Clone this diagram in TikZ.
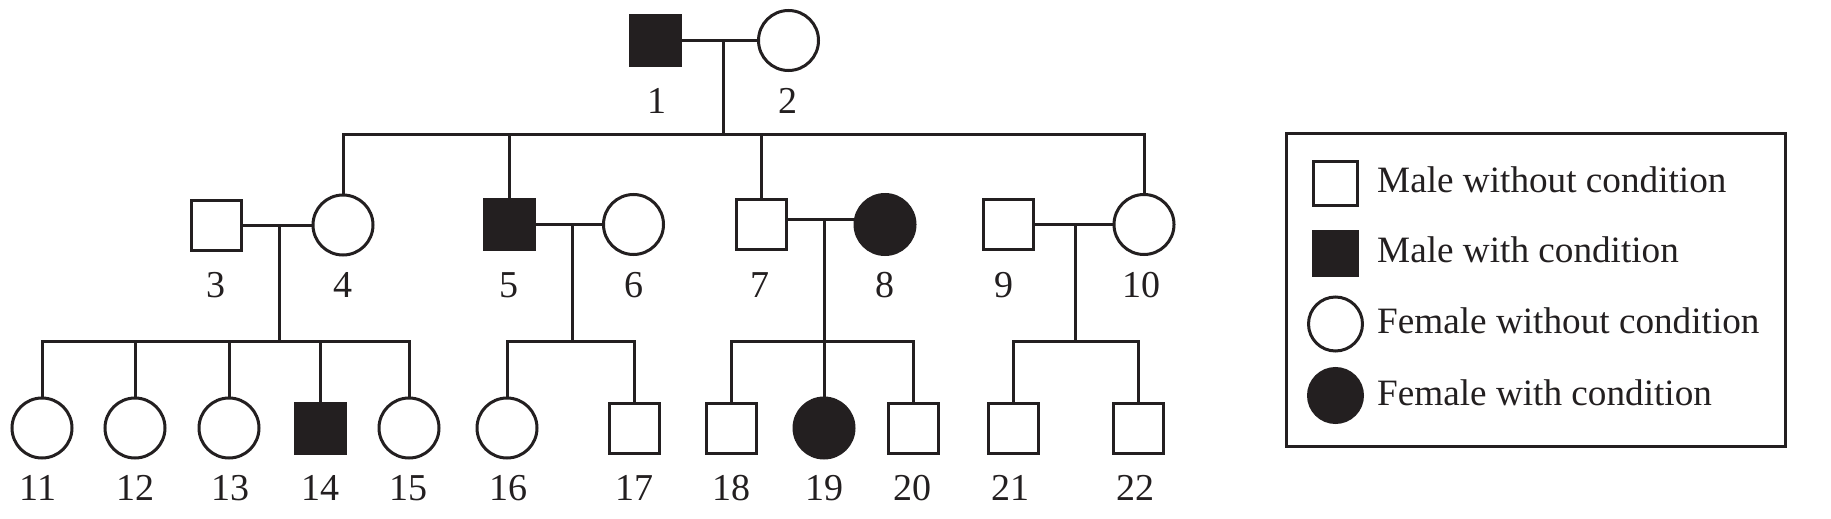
\documentclass[tikz,border=0pt]{standalone}
\usepackage{fontspec}
\setmainfont{Liberation Serif}
\definecolor{ink}{RGB}{35,31,32}
\tikzset{
 conn/.style={draw=ink, line width=3pt},
 male/.style={rectangle, draw=ink, line width=3pt, minimum size=50pt, inner sep=0pt, fill=white},
 female/.style={circle, draw=ink, line width=3pt, minimum size=60pt, inner sep=0pt, fill=white},
 aff/.style={fill=ink},
 num/.style={anchor=base, inner sep=0pt, text=ink, font=\fontsize{38}{40}\selectfont},
 legtext/.style={anchor=base west, inner sep=0pt, text=ink, font=\fontsize{37.2}{40}\selectfont},
 lmale/.style={rectangle, draw=ink, line width=3pt, minimum size=44pt, inner sep=0pt, fill=white},
 lfemale/.style={circle, draw=ink, line width=3pt, minimum size=54pt, inner sep=0pt, fill=white},
}
\begin{document}
\begin{tikzpicture}[x=1pt,y=-1pt]
\useasboundingbox (0,0) rectangle (1831,519);
\fill[white] (0,0) rectangle (1831,519);
% generation I
\node[male,aff] (n1) at (655.5,40.5) {};
\node[female] (n2) at (788.5,40.5) {};
% generation II
\node[male] (n3) at (216,225) {};
\node[female] (n4) at (343,225) {};
\node[male,aff] (n5) at (509.5,224.5) {};
\node[female] (n6) at (633.5,224.5) {};
\node[male] (n7) at (761.5,224.5) {};
\node[female,aff] (n8) at (885,224.5) {};
\node[male] (n9) at (1008.5,224.5) {};
\node[female] (n10) at (1144,224.5) {};
% generation III
\node[female] (n11) at (42,428) {};
\node[female] (n12) at (135,428) {};
\node[female] (n13) at (229,428) {};
\node[male,aff] (n14) at (320,428) {};
\node[female] (n15) at (409,428) {};
\node[female] (n16) at (507,428) {};
\node[male] (n17) at (634,428) {};
\node[male] (n18) at (731,428) {};
\node[female,aff] (n19) at (824,428) {};
\node[male] (n20) at (913,428) {};
\node[male] (n21) at (1013,428) {};
\node[male] (n22) at (1138,428) {};
% labels
\node[num] (l1) at (657,113) {1};
\node[num] (l2) at (788,113) {2};
\node[num] (l3) at (216,297) {3};
\node[num] (l4) at (343,297) {4};
\node[num] (l5) at (509,297) {5};
\node[num] (l6) at (634,297) {6};
\node[num] (l7) at (760,297) {7};
\node[num] (l8) at (885,297) {8};
\node[num] (l9) at (1004,297) {9};
\node[num] (l10) at (1141,297) {10};
\node[num] (l11) at (38,500) {11};
\node[num] (l12) at (135,500) {12};
\node[num] (l13) at (230,500) {13};
\node[num] (l14) at (320,500) {14};
\node[num] (l15) at (408,500) {15};
\node[num] (l16) at (508,500) {16};
\node[num] (l17) at (634,500) {17};
\node[num] (l18) at (731,500) {18};
\node[num] (l19) at (824,500) {19};
\node[num] (l20) at (912,500) {20};
\node[num] (l21) at (1010,500) {21};
\node[num] (l22) at (1135,500) {22};
% junction coordinates
\coordinate (m12) at (723,41);
\coordinate (s12) at (723,134);
\coordinate (m34) at (279,225);
\coordinate (s34) at (279,341);
\coordinate (m56) at (572,225);
\coordinate (s56) at (572,341);
\coordinate (m78) at (824,219);
\coordinate (s78) at (824,341);
\coordinate (m910) at (1075,225);
\coordinate (s910) at (1075,341);
% mating lines
\draw[conn] (n1.east) -- (n2.west);
\draw[conn] (n3.east) -- (n4.west);
\draw[conn] (n5.east) -- (n6.west);
\draw[conn] (n7.east |- m78) -- (n8.west |- m78);
\draw[conn] (n9.east) -- (n10.west);
% descent lines
\draw[conn] (m12) -- (s12);
\draw[conn] (n4.north) |- (s12) -| (n10.north);
\draw[conn] (n5.north) -- (n5.north |- s12);
\draw[conn] (n7.north) -- (n7.north |- s12);
\draw[conn] (m34) -- (s34);
\draw[conn] (n11.north) |- (s34) -| (n15.north);
\draw[conn] (n12.north) -- (n12.north |- s34);
\draw[conn] (n13.north) -- (n13.north |- s34);
\draw[conn] (n14.north) -- (n14.north |- s34);
\draw[conn] (m56) -- (s56);
\draw[conn] (n16.north) |- (s56) -| (n17.north);
\draw[conn] (m78) -- (n19.north);
\draw[conn] (n18.north) |- (s78) -| (n20.north);
\draw[conn] (m910) -- (s910);
\draw[conn] (n21.north) |- (s910) -| (n22.north);
% legend
\node[draw=ink, line width=3pt, rectangle, minimum width=499pt, minimum height=313pt, inner sep=0pt] (legend) at (1536,290) {};
\node[lmale] (k1) at (1335.5,183.5) {};
\node[lmale,aff] (k2) at (1335.5,253) {};
\node[lfemale] (k3) at (1335.5,324) {};
\node[lfemale,aff] (k4) at (1335.5,395.5) {};
\node[legtext] (t1) at (1377,192) {Male without condition};
\node[legtext] (t2) at (1377,262) {Male with condition};
\node[legtext] (t3) at (1377,333) {Female without condition};
\node[legtext] (t4) at (1377,405) {Female with condition};
\end{tikzpicture}
\end{document}
